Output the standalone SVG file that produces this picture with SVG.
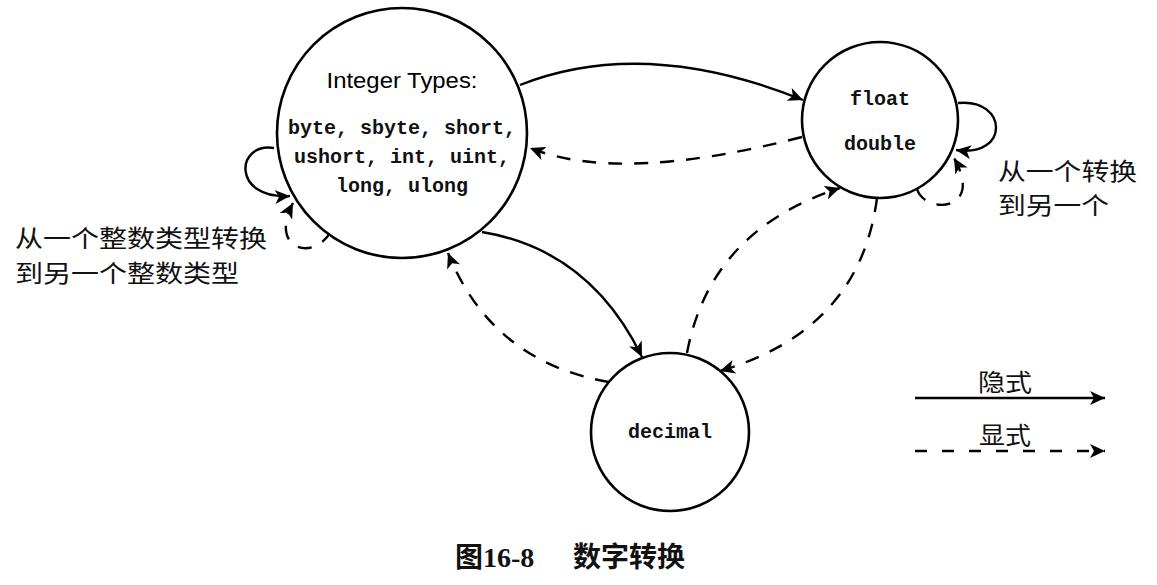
<svg xmlns="http://www.w3.org/2000/svg" width="1157" height="585" viewBox="0 0 1157 585">
  <style>
    .node { fill: #ffffff; stroke: #000000; stroke-width: 2.6; }
    .conn { fill: none; stroke: #000000; stroke-width: 2.4; }
    .solid { marker-end: url(#ah); }
    .dash { stroke-dasharray: 14 12; marker-end: url(#ah); }
    .lgdash { stroke-dasharray: 12 15; }
    .mono { font-family: "Liberation Mono", "DejaVu Sans Mono", monospace; font-size: 20px; font-weight: bold; fill: #111; text-anchor: middle; }
    .sans { font-family: "Liberation Sans", Arial, sans-serif; font-size: 22px; fill: #000; text-anchor: middle; }
    .cjk { font-family: "Noto Sans CJK SC", sans-serif; font-size: 24px; fill: #111; }
    .cap { font-family: "Liberation Serif", "Noto Sans CJK SC", serif; font-size: 28px; font-weight: bold; fill: #111; }
  </style>
  <defs>
    <marker id="ah" markerUnits="userSpaceOnUse" viewBox="0 0 16 14" markerWidth="16" markerHeight="14" refX="15" refY="7" orient="auto">
      <path d="M0,0 L15,7 L0,14 L4,7 Z" fill="#000" stroke="none"/>
    </marker>
  </defs>
  <rect width="1157" height="585" fill="#ffffff"/>

  <g id="connectors">
    <!-- Integer -> float (implicit) -->
    <path class="conn solid" d="M520,85 Q644,36 803,100"/>
    <!-- float -> Integer (explicit) -->
    <path class="conn dash" d="M802,137 Q620,184 530,148"/>
    <!-- Integer -> decimal (implicit) -->
    <path class="conn solid" d="M482,232 Q590,250 642,357"/>
    <!-- decimal -> Integer (explicit) -->
    <path class="conn dash" d="M609,382 Q492,362 448,253"/>
    <!-- decimal -> float (explicit) -->
    <path class="conn dash" d="M687,353 Q710,230 840,188"/>
    <!-- float -> decimal (explicit) -->
    <path class="conn dash" d="M877,198 Q860,330 720,371"/>
    <!-- Integer self loops -->
    <path class="conn solid" d="M274,148 C235,142 232,200 290,196"/>
    <path class="conn dash" d="M331,231 C315,262 268,250 293,203"/>
    <!-- float self loops -->
    <path class="conn solid" d="M958,103 C1008,98 1010,158 956,150"/>
    <path class="conn dash" d="M917,189 C925,215 985,212 954,158"/>
  </g>

  <g id="node-integer">
    <circle class="node" cx="402" cy="133" r="125"/>
    <text class="sans" x="402" y="88" textLength="151" lengthAdjust="spacingAndGlyphs">Integer Types:</text>
    <text class="mono" x="402" y="134">byte, sbyte, short,</text>
    <text class="mono" x="402" y="163">ushort, int, uint,</text>
    <text class="mono" x="402" y="192">long, ulong</text>
  </g>

  <g id="node-float">
    <circle class="node" cx="880" cy="120" r="78"/>
    <text class="mono" x="880" y="105">float</text>
    <text class="mono" x="880" y="150">double</text>
  </g>

  <g id="node-decimal">
    <circle class="node" cx="670" cy="432" r="79"/>
    <text class="mono" x="670" y="438">decimal</text>
  </g>

  <g id="labels">
    <text class="cjk" x="15" y="247" textLength="252" lengthAdjust="spacingAndGlyphs">从一个整数类型转换</text>
    <text class="cjk" x="15" y="282" textLength="224" lengthAdjust="spacingAndGlyphs">到另一个整数类型</text>
    <text class="cjk" x="998" y="180" font-size="23" textLength="139" lengthAdjust="spacingAndGlyphs">从一个转换</text>
    <text class="cjk" x="998" y="214" font-size="23" textLength="111" lengthAdjust="spacingAndGlyphs">到另一个</text>
  </g>

  <g id="legend">
    <text class="cjk" x="978" y="391" font-size="26" textLength="54" lengthAdjust="spacingAndGlyphs">隐式</text>
    <line class="conn solid" x1="915" y1="398" x2="1105" y2="398"/>
    <text class="cjk" x="979" y="444" font-size="26" textLength="52" lengthAdjust="spacingAndGlyphs">显式</text>
    <line class="conn lgdash" x1="915" y1="451" x2="1105" y2="451" marker-end="url(#ah)"/>
  </g>

  <g id="caption">
    <text class="cap" x="455" y="567">图16-8</text>
    <text class="cap" x="573" y="567" font-weight="normal">数字转换</text>
  </g>
</svg>
